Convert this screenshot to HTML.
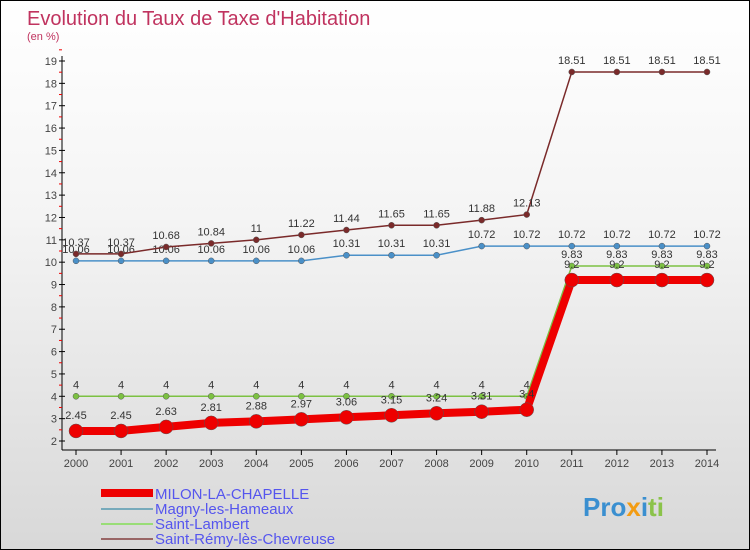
<!DOCTYPE html>
<html><head><meta charset="utf-8"><style>
body{margin:0}
#c{position:relative;width:748px;height:548px;border:1px solid #000;background:linear-gradient(#fff,#f4f4f4 40%,#d8d8d8);font-family:"Liberation Sans",sans-serif;overflow:hidden}
</style></head><body>
<div id="c">
<svg width="748" height="548" id="svg">
<text x="26" y="24" font-size="20" fill="#c0335f">Evolution du Taux de Taxe d'Habitation</text>
<text x="26" y="39" font-size="11" fill="#c0335f">(en %)</text>
<g id="g"></g>
<g font-size="15" fill="#5555ee">
<line x1="100" y1="492" x2="152" y2="492" stroke="#e00" stroke-width="8"/>
<text x="154" y="498">MILON-LA-CHAPELLE</text>
<line x1="100" y1="508" x2="152" y2="508" stroke="#7ab" stroke-width="2"/>
<text x="154" y="513">Magny-les-Hameaux</text>
<line x1="100" y1="523" x2="152" y2="523" stroke="#9d7" stroke-width="2"/>
<text x="154" y="528">Saint-Lambert</text>
<line x1="100" y1="538" x2="152" y2="538" stroke="#966" stroke-width="2"/>
<text x="154" y="543">Saint-Rémy-lès-Chevreuse</text>
</g>
<text x="582" y="515" font-size="26" font-weight="bold"><tspan fill="#3a8fd0">Pro</tspan><tspan fill="#f39c12">x</tspan><tspan fill="#3a8fd0">i</tspan><tspan fill="#8bc34a">ti</tspan></text>
</svg></div>
<script>
const years=[2000,2001,2002,2003,2004,2005,2006,2007,2008,2009,2010,2011,2012,2013,2014];
const yTicks=[2,3,4,5,6,7,8,9,10,11,12,13,14,15,16,17,18,19];
const milon=[2.45,2.45,2.63,2.81,2.88,2.97,3.06,3.15,3.24,3.31,3.4,9.2,9.2,9.2,9.2];
const magny=[10.06,10.06,10.06,10.06,10.06,10.06,10.31,10.31,10.31,10.72,10.72,10.72,10.72,10.72,10.72];
const lambert=[4,4,4,4,4,4,4,4,4,4,4,9.83,9.83,9.83,9.83];
const remy=[10.37,10.37,10.68,10.84,11,11.22,11.44,11.65,11.65,11.88,12.13,18.51,18.51,18.51,18.51];
const NS="http://www.w3.org/2000/svg",g=document.getElementById('g');
const X=i=>75+i*(631/14), Y=v=>440-(v-2)*(380/17);
function el(t,a,p){const e=document.createElementNS(NS,t);for(const k in a)e.setAttribute(k,a[k]);(p||g).appendChild(e);return e;}
let ax=el('line',{x1:61,y1:55,x2:61,y2:449,stroke:'#000'});


let xa=el('line',{x1:61,y1:449,x2:715,y2:449,stroke:'#000'});


yTicks.forEach(v=>{el('line',{x1:58,y1:Y(v),x2:64,y2:Y(v),stroke:'#000'});
el('line',{x1:58,y1:Y(v+0.5),x2:61,y2:Y(v+0.5),stroke:'#e00'});
const t=el('text',{x:56,y:Y(v)+4,'font-size':11,fill:'#444','text-anchor':'end'});t.textContent=v;

});
years.forEach((y,i)=>{el('line',{x1:X(i),y1:449,x2:X(i),y2:454,stroke:'#000'});
const t=el('text',{x:X(i),y:466,'font-size':11,fill:'#444','text-anchor':'middle'});t.textContent=y;

});
function series(d,col,lw,r,name,lab){
 const p=el('polyline',{points:d.map((v,i)=>X(i)+','+Y(v)).join(' '),fill:'none',stroke:col,'stroke-width':lw});
 
 
 d.forEach((v,i)=>{const c=el('circle',{cx:X(i),cy:Y(v),r:r,fill:col,stroke:'#555','stroke-width':0.5});
 
 
 const t=el('text',{x:X(i),y:Y(v)-(r+5),'font-size':11,fill:lab,'text-anchor':'middle'});t.textContent=v;
 
 });
}
series(magny,'#4a90c8',1.5,3,'magny','#333');
series(lambert,'#7cc142',1.5,3,'saint-lambert','#333');
series(remy,'#7a2a2a',1.5,3,'saint-remy','#333');
series(milon,'#e00',8,7,'milon','#333');
</script>
</body></html>
